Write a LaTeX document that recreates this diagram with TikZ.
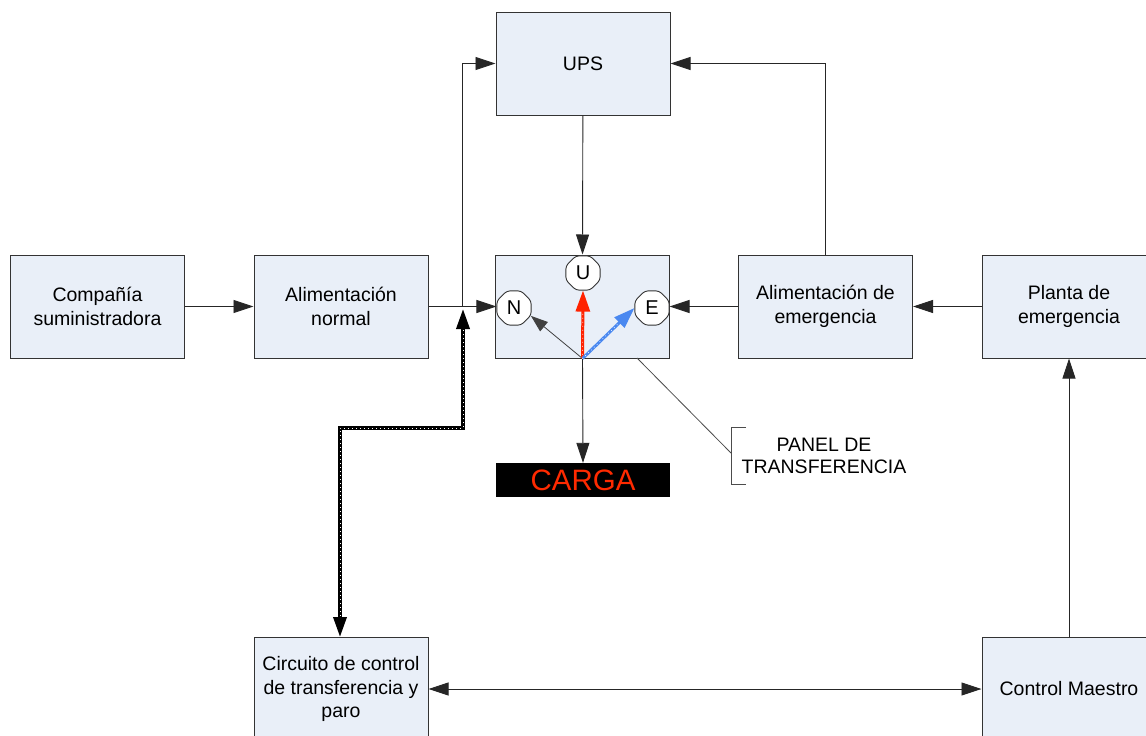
\documentclass[tikz,border=0pt]{standalone}
\usepackage{fontspec}
\setmainfont{Liberation Sans}
\usetikzlibrary{arrows.meta,shapes.geometric}
\definecolor{boxfill}{HTML}{E9EFF8}
\definecolor{boxline}{HTML}{333333}
\definecolor{cargared}{HTML}{FF2A00}
\definecolor{ured}{HTML}{FF2200}
\definecolor{eblue}{HTML}{4A88F0}
\begin{document}
\begin{tikzpicture}[x=1pt,y=-1pt,
  box/.style={draw=boxline, fill=boxfill, line width=1pt, minimum width=174pt, minimum height=103pt, align=center, inner sep=0pt, font=\fontsize{19.5}{23.5}\selectfont},
  tipA/.style={-{Triangle[length=20pt,width=13pt]}},
  conn/.style={draw=black!85, line width=0.9pt, tipA},
  sw/.style={draw=boxline, fill=white, regular polygon, regular polygon sides=8, minimum size=37pt, inner sep=0pt, line width=0.9pt, rounded corners=3pt, font=\fontsize{20}{23.5}\selectfont},
  specks/.style={white, line width=0.7pt, dash pattern=on 0.7pt off 3.3pt},
  lbl/.style={align=center, font=\fontsize{19.5}{22}\selectfont}
]
\useasboundingbox (0,0) rectangle (1146,736);
\clip (0,0) rectangle (1146,736);
\fill[white] (0,0) rectangle (1146,736);

% boxes
\node[box] (comp) at (97.5,306.5) {Compañía\\suministradora};
\node[box] (alim) at (341,306.5) {Alimentación\\normal};
\node[box] (ups) at (583,63.5) {UPS};
\node[box] (panel) at (582.5,306.5) {};
\node[box] (emerg) at (825.5,306.5) {Alimentación de\\emergencia};
\node[box] (planta) at (1069,306.5) {Planta de\\emergencia};
\node[box, minimum height=104pt] (circ) at (341,689) {Circuito de control\\de transferencia y\\paro};
\node[box, minimum height=104pt] (ctrl) at (1069,689) {Control Maestro};
\node[fill=black, minimum width=174pt, minimum height=34pt, inner sep=0pt, text=cargared, font=\fontsize{29.5}{30}\selectfont] (carga) at (583,480) {CARGA};

% switch positions
\node[sw] (U) at (583,273) {U};
\node[sw] (N) at (514,308) {N};
\node[sw] (E) at (652,308) {E};

\coordinate (o) at (panel.south);
\coordinate (j) at (462,306.5);
\coordinate (d0) at (340,637);
\coordinate (d1) at (340,428);
\coordinate (d2) at (463,428);
\coordinate (dt) at (463,309);
\coordinate (pl) at (637,358);
\coordinate (br) at (731,453);

% connectors
\draw[conn] (comp) -- (alim);
\draw[conn] (alim.east) -- (alim.east -| N.west);
\draw[conn] (j) |- (ups.west);
\draw[conn] (ups) -- (panel.north);
\draw[conn] (emerg.north) |- (ups.east);
\draw[conn] (emerg.west) -- (emerg.west -| E.east);
\draw[conn] (planta) -- (emerg);
\draw[conn] (ctrl.north) -- (planta.south);
\draw[conn, {Triangle[length=20pt,width=13pt]}-{Triangle[length=20pt,width=13pt]}] (circ) -- (ctrl);
\draw[conn] (o) -- (carga.north);

% dotted control link
\draw[line width=3.5pt, black, {Triangle[length=20pt,width=13pt]}-{Triangle[length=20pt,width=13pt]}] (d0) -- (d1) -- (d2) -- (dt);
\draw[specks, shorten <=21pt, shorten >=21pt] (d0) -- (d1) -- (d2) -- (dt);

% arrows inside panel
\draw[draw=black!75, line width=0.8pt, -{Triangle[length=17pt,width=12pt]}] (o) -- (N.-25);
\draw[ured, line width=3pt, -{Triangle[length=21pt,width=14pt]}] (o) -- (U.south);
\draw[specks, shorten >=21pt] (o) -- (U.south);
\draw[eblue, line width=3pt, -{Triangle[length=21pt,width=14pt]}] (o) -- (E.west);
\draw[specks, shorten >=21pt] (o) -- (E.west);

% panel label
\draw[black!70, line width=0.8pt] (pl) -- (br);
\draw[black!70, line width=1pt] (746,427) -- (731,427) -- (731,484) -- (746,484);
\node[lbl] (plabel) at (824,456) {PANEL DE\\TRANSFERENCIA};
\end{tikzpicture}
\end{document}
